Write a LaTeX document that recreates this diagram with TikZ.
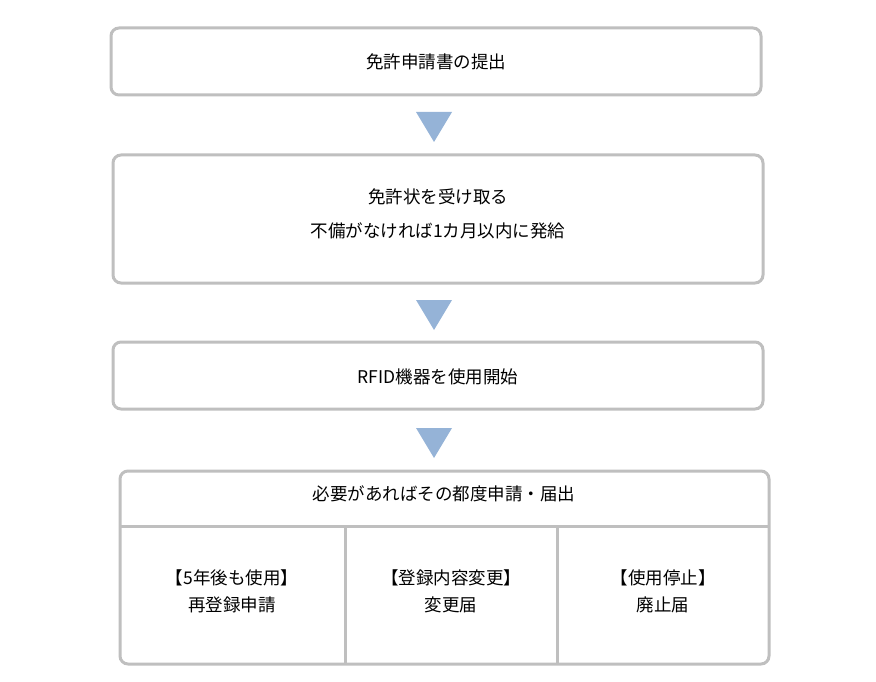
\documentclass[tikz,border=0pt]{standalone}
\usepackage{fontspec}
\setmainfont{Noto Sans CJK JP}
\begin{document}
\begin{tikzpicture}[x=1pt,y=-1pt,
  box/.style={draw=boxgray,line width=3pt,rounded corners=8pt},
  tri/.style={fill=triblue,draw=none},
  lbl/.style={font=\fontsize{17.5pt}{27pt}\selectfont,inner sep=0pt,align=center}]
\definecolor{boxgray}{HTML}{BFBFBF}
\definecolor{triblue}{HTML}{95B3D7}
\useasboundingbox (0,0) rectangle (876,682);
\draw[box] (111,28) rectangle (761,95);
\node[lbl] (t1) at (436,62) {免許申請書の提出};
\fill[tri] (416,112) -- (452,112) -- (434,142) -- cycle;
\draw[box] (113,155) rectangle (763,283);
\node[lbl] (t2a) at (438,197) {免許状を受け取る};
\node[lbl] (t2b) at (438,231) {不備がなければ1カ月以内に発給};
\fill[tri] (416,300) -- (452,300) -- (434,330) -- cycle;
\draw[box] (113,342) rectangle (763,409);
\node[lbl] (t3) at (438,377) {RFID機器を使用開始};
\fill[tri] (416,428) -- (452,428) -- (434,458) -- cycle;
\draw[box] (120,471) rectangle (769,664);
\draw[boxgray,line width=3pt] (120,526) -- (769,526);
\draw[boxgray,line width=3pt] (345,526) -- (345,664);
\draw[boxgray,line width=3pt] (557,526) -- (557,664);
\node[lbl] (h) at (444,494) {必要があればその都度申請・届出};
\node[lbl] (c1) at (232,591) {【5年後も使用】\\再登録申請};
\node[lbl] (c2) at (451,591) {【登録内容変更】\\変更届};
\node[lbl] (c3) at (663,591) {【使用停止】\\廃止届};
\end{tikzpicture}
\end{document}
